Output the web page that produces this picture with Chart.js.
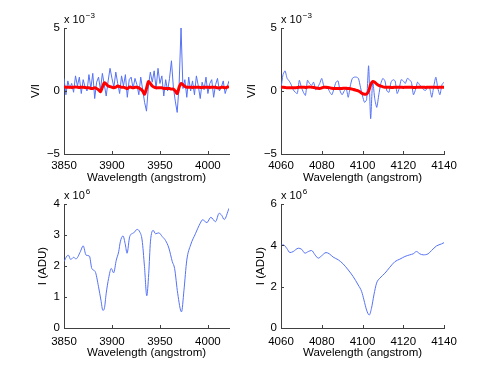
<!DOCTYPE html>
<html>
<head>
<meta charset="utf-8">
<script src="https://cdn.jsdelivr.net/npm/chart.js@4"></script>
<style>
  html, body { margin: 0; padding: 0; background: #fff; }
  body { width: 491px; height: 369px; position: relative; overflow: hidden; }
  canvas { position: absolute; }
</style>
</head>
<body>
<canvas id="tl" width="235" height="185" style="left:0;top:0"></canvas>
<canvas id="tr" width="256" height="185" style="left:235px;top:0"></canvas>
<canvas id="bl" width="235" height="184" style="left:0;top:185px"></canvas>
<canvas id="br" width="256" height="184" style="left:235px;top:185px"></canvas>
<script>
// ---- data ----
// top left: V/I (x 1e-3), 2 angstrom steps
const wlTopLeft = [3850,3852,3854,3856,3858,3860,3862,3864,3866,3868,3870,3872,3874,3876,3878,3880,3882,3884,3886,3888,
  3890,3892,3894,3896,3898,3900,3902,3904,3906,3908,3910,3912,3914,3916,3918,3920,3922,3924,3926,3928,
  3930,3932,3934,3936,3938,3940,3942,3944,3946,3948,3950,3952,3954,3956,3958,3960,3962,3964,3966,3968,
  3970,3972,3974,3976,3978,3980,3982,3984,3986,3988,3990,3992,3994,3996,3998,4000,4002,4004,4006,4008,
  4010,4012,4014,4016,4018,4020,4022];
const vObsTopLeft = [1.0,-0.3,0.8,0.2,0.6,-0.1,1.2,0.4,1.1,-0.2,0.9,0.3,0.0,1.3,0.2,1.4,-0.6,0.7,1.1,0.1,
  1.4,0.5,-0.4,0.8,1.8,1.0,0.3,1.5,0.6,-0.2,1.2,0.4,1.3,-0.5,0.9,1.1,0.2,1.0,0.5,-0.3,
  1.1,0.1,-0.9,-1.6,0.4,1.5,0.7,1.6,0.2,1.8,0.6,1.2,-0.4,0.9,0.0,1.0,2.4,0.3,-0.8,-1.7,
  0.5,5.0,0.2,0.9,-0.5,1.1,0.0,0.8,-0.3,1.2,0.4,-0.6,0.7,0.1,1.1,-0.2,0.6,0.9,-0.5,0.5,
  1.0,0.0,0.3,0.8,-0.2,0.3,0.8];
const vFitTopLeft = [0.35,0.3,0.3,0.3,0.28,0.3,0.32,0.3,0.28,0.3,0.3,0.28,0.25,0.25,0.2,0.2,0.25,0.2,0.1,-0.05,
  0.3,0.65,0.55,0.4,0.35,0.3,0.25,0.3,0.4,0.35,0.3,0.3,0.25,0.2,0.3,0.3,0.25,0.3,0.3,0.25,
  0.15,0.0,-0.25,0.2,0.75,0.6,0.4,0.3,0.25,0.25,0.25,0.25,0.2,0.2,0.2,0.2,0.15,0.15,0.0,-0.2,
  0.3,0.6,0.5,0.35,0.3,0.3,0.3,0.28,0.3,0.3,0.3,0.28,0.28,0.3,0.3,0.3,0.28,0.3,0.3,0.3,
  0.25,0.25,0.3,0.3,0.25,0.3,0.35];

// top right: V/I (x 1e-3), 1 angstrom steps
const wlTopRight = [4060,4061,4062,4063,4064,4065,4066,4067,4068,4069,4070,4071,4072,4073,4074,4075,4076,4077,4078,4079,
  4080,4081,4082,4083,4084,4085,4086,4087,4088,4089,4090,4091,4092,4093,4094,4095,4096,4097,4098,4099,
  4100,4101,4102,4103,4104,4105,4106,4107,4108,4109,4110,4111,4112,4113,4114,4115,4116,4117,4118,4119,
  4120,4121,4122,4123,4124,4125,4126,4127,4128,4129,4130,4131,4132,4133,4134,4135,4136,4137,4138,4139,4140];
const vObsTopRight = [0.2,1.3,1.6,1.0,0.8,0.5,0.1,-0.1,-0.2,0.85,0.3,-0.1,-0.35,0.85,0.6,0.45,0.7,0.1,0.3,0.6,
  1.0,0.4,0.2,0.2,-0.1,-0.3,0.2,0.7,0.8,0.0,-0.3,0.0,0.2,-0.5,0.4,1.0,1.1,1.1,1.0,0.3,
  -0.4,-0.9,-0.7,2.0,-2.2,0.8,-0.6,-1.3,-0.3,0.6,1.0,0.8,0.0,-0.1,0.7,0.9,0.8,-0.2,0.2,0.9,
  0.8,0.6,1.0,0.9,0.7,-0.3,0.1,0.7,0.5,0.3,0.1,0.05,0.3,0.2,-0.5,0.4,1.1,0.2,-0.3,0.5,0.7];
const vFitTopRight = [0.3,0.3,0.28,0.25,0.25,0.25,0.25,0.25,0.28,0.3,0.3,0.3,0.28,0.3,0.32,0.3,0.28,0.25,0.22,0.2,
  0.25,0.3,0.3,0.28,0.25,0.22,0.2,0.2,0.2,0.2,0.2,0.22,0.22,0.2,0.18,0.15,0.1,0.05,0.0,-0.1,
  -0.2,-0.25,-0.25,0.0,0.5,0.75,0.7,0.55,0.45,0.38,0.33,0.3,0.3,0.3,0.28,0.28,0.3,0.3,0.3,0.3,
  0.28,0.3,0.3,0.3,0.3,0.28,0.28,0.3,0.3,0.3,0.3,0.28,0.3,0.3,0.3,0.3,0.3,0.28,0.3,0.3,0.3];

// bottom left: intensity (x 1e6 ADU)
const wlBottomLeft = [3850,3853,3854.5,3857,3860,3862.5,3867,3870,3873,3876.5,3879,3882.5,3886,3888.5,3890.5,3892,3894,3896.5,3899.3,3901.7,
  3904.5,3907,3908.7,3911.5,3914,3915.7,3918.5,3922.7,3926.2,3929,3931.4,3933.9,3936.3,3938.3,3940.1,3943,3945.4,3948.8,3952.4,3955.9,
  3959.3,3962.9,3965.3,3968.5,3972.5,3975,3978,3982,3987,3992,3994.5,3999,4003,4008,4011.7,4014.3,4017,4022];
const iBottomLeft = [2.14,2.32,2.35,2.21,2.28,2.23,2.46,2.65,2.35,2.32,1.92,1.82,1.33,0.9,0.57,0.62,1.12,1.6,1.92,1.78,
  2.19,2.46,2.78,2.97,2.68,2.41,2.95,3.07,3.18,3.1,2.84,1.98,1.04,1.75,2.78,3.15,3.04,3.07,2.95,2.82,
  2.58,2.14,1.92,1.12,0.52,1.2,2.19,2.68,3.04,3.38,3.49,3.4,3.57,3.43,3.7,3.64,3.5,3.86];

// bottom right: intensity (x 1e6 ADU)
const wlBottomRight = [4060,4061.2,4062.8,4064.4,4066,4068.5,4070.1,4071.8,4073.4,4075,4076.7,4078.3,4079.9,4082.1,4083.7,4085.6,4088.1,4090.5,4093,4095.4,
  4097.9,4099.6,4100.7,4102,4103.3,4104.4,4105.6,4106.9,4108.5,4111,4113.4,4115.9,4118.3,4120.8,4123.2,4124.9,4126.5,4128.1,4129.8,4132.2,
  4133.9,4136.3,4138.8,4140];
const iBottomRight = [4.0,4.02,3.86,3.65,3.7,3.86,3.81,3.62,3.7,3.75,3.54,3.38,3.49,3.65,3.59,3.43,3.3,3.1,2.81,2.49,
  2.08,1.76,1.36,0.87,0.63,0.95,1.6,2.17,2.41,2.65,2.94,3.21,3.33,3.46,3.54,3.59,3.7,3.59,3.54,3.59,
  3.75,3.97,4.07,4.13];

// tick values and labels
const xTicksLeft = [3850, 3900, 3950, 4000];
const xTicksRight = [4060, 4080, 4100, 4120, 4140];
const yTicksVI = [-5, 0, 5];
const yLabelsVI = ['\u22125', '0', '5'];
const yTicksILeft = [0, 1, 2, 3, 4];
const yTicksIRight = [0, 2, 4, 6];

const FONT = '"Liberation Sans", Arial, Helvetica, sans-serif';
const AXIS = '#404040';
const BLUE = '#5572f5';
const RED = '#ff0000';

Chart.defaults.font.family = FONT;
Chart.defaults.font.size = 11.5;
Chart.defaults.color = '#000';

// "x 10^n" label above the y axis
const expLabel = {
  id: 'expLabel',
  afterDraw(chart, args, opts) {
    const ctx = chart.ctx, a = chart.chartArea;
    ctx.save();
    ctx.fillStyle = '#000';
    ctx.textBaseline = 'alphabetic';
    ctx.font = '11px ' + FONT;
    const y = a.top - 5;
    ctx.fillText('x 10', a.left, y);
    const w = ctx.measureText('x 10').width;
    ctx.font = '8px ' + FONT;
    ctx.fillText(opts.exp, a.left + w + 1, y - 5);
    ctx.restore();
  }
};

// small ticks pointing into the plot, like matlab
const insideTicks = {
  id: 'insideTicks',
  afterDraw(chart) {
    const ctx = chart.ctx, a = chart.chartArea;
    const xs = chart.scales.x, ys = chart.scales.y;
    ctx.save();
    ctx.strokeStyle = AXIS;
    ctx.lineWidth = 1;
    ctx.beginPath();
    xs.ticks.forEach(t => {
      const px = Math.round(xs.getPixelForValue(t.value)) + 0.5;
      ctx.moveTo(px, a.bottom);
      ctx.lineTo(px, a.bottom - 3);
    });
    ys.ticks.forEach(t => {
      const py = Math.round(ys.getPixelForValue(t.value)) + 0.5;
      ctx.moveTo(a.left, py);
      ctx.lineTo(a.left + 3, py);
    });
    ctx.stroke();
    ctx.restore();
  }
};

function toPoints(xs, ys) {
  return xs.map((x, i) => ({ x: x, y: ys[i] }));
}

function makeChart(id, p) {
  new Chart(document.getElementById(id), {
    type: 'line',
    data: { datasets: p.datasets },
    options: {
      responsive: false,
      animation: false,
      events: [],
      layout: { padding: p.padding },
      elements: { point: { radius: 0 } },
      plugins: {
        legend: { display: false },
        tooltip: { enabled: false },
        expLabel: { exp: p.exp }
      },
      scales: {
        x: {
          type: 'linear',
          min: p.xMin, max: p.xMax,
          afterBuildTicks: s => { s.ticks = p.xTicks.map(v => ({ value: v })); },
          afterFit: s => { s.height = p.xHeight; },
          grid: { drawOnChartArea: false, drawTicks: false },
          border: { display: true, color: AXIS, width: 1 },
          ticks: { padding: p.xTickPad, maxRotation: 0, autoSkip: false,
                   callback: (v, i) => String(p.xTicks[i]) },
          title: { display: true, text: 'Wavelength (angstrom)', padding: { top: 0, bottom: p.xTitlePad } }
        },
        y: {
          type: 'linear',
          min: p.yMin, max: p.yMax,
          afterBuildTicks: s => { s.ticks = p.yTicks.map(v => ({ value: v })); },
          afterFit: s => { s.width = p.yWidth; },
          grid: { drawOnChartArea: false, drawTicks: false },
          border: { display: true, color: AXIS, width: 1 },
          ticks: { padding: 4, autoSkip: false, callback: (v, i) => p.yLabels[i] },
          title: { display: true, text: p.yTitle, padding: { top: p.yTitlePad, bottom: 0 } }
        }
      }
    },
    plugins: [expLabel, insideTicks]
  });
}

makeChart('tl', {
  datasets: [
    { data: toPoints(wlTopLeft, vFitTopLeft), borderColor: RED, borderWidth: 3, tension: 0.3 },
    { data: toPoints(wlTopLeft, vObsTopLeft), borderColor: BLUE, borderWidth: 1, tension: 0 }
  ],
  padding: { top: 28, right: 6, left: 0, bottom: 0 },
  xMin: 3850, xMax: 4022, xTicks: xTicksLeft, xHeight: 31, xTickPad: 5, xTitlePad: 0,
  yMin: -5, yMax: 5, yTicks: yTicksVI, yLabels: yLabelsVI, yWidth: 64,
  yTitle: 'V/I', yTitlePad: 29, exp: '\u22123'
});

makeChart('tr', {
  datasets: [
    { data: toPoints(wlTopRight, vFitTopRight), borderColor: RED, borderWidth: 3, tension: 0.3 },
    { data: toPoints(wlTopRight, vObsTopRight), borderColor: BLUE, borderWidth: 1, tension: 0.2 }
  ],
  padding: { top: 28, right: 47, left: 0, bottom: 0 },
  xMin: 4060, xMax: 4140, xTicks: xTicksRight, xHeight: 31, xTickPad: 5, xTitlePad: 0,
  yMin: -5, yMax: 5, yTicks: yTicksVI, yLabels: yLabelsVI, yWidth: 46,
  yTitle: 'V/I', yTitlePad: 10, exp: '\u22123'
});

makeChart('bl', {
  datasets: [
    { data: toPoints(wlBottomLeft, iBottomLeft), borderColor: BLUE, borderWidth: 1, cubicInterpolationMode: 'monotone' }
  ],
  padding: { top: 19, right: 6, left: 0, bottom: 0 },
  xMin: 3850, xMax: 4022, xTicks: xTicksLeft, xHeight: 41, xTickPad: 7, xTitlePad: 9,
  yMin: 0, yMax: 4, yTicks: yTicksILeft, yLabels: yTicksILeft.map(String), yWidth: 64,
  yTitle: 'I (ADU)', yTitlePad: 36, exp: '6'
});

makeChart('br', {
  datasets: [
    { data: toPoints(wlBottomRight, iBottomRight), borderColor: BLUE, borderWidth: 1, cubicInterpolationMode: 'monotone' }
  ],
  padding: { top: 19, right: 47, left: 0, bottom: 0 },
  xMin: 4060, xMax: 4140, xTicks: xTicksRight, xHeight: 41, xTickPad: 7, xTitlePad: 9,
  yMin: 0, yMax: 6, yTicks: yTicksIRight, yLabels: yTicksIRight.map(String), yWidth: 46,
  yTitle: 'I (ADU)', yTitlePad: 19, exp: '6'
});
</script>
</body>
</html>
